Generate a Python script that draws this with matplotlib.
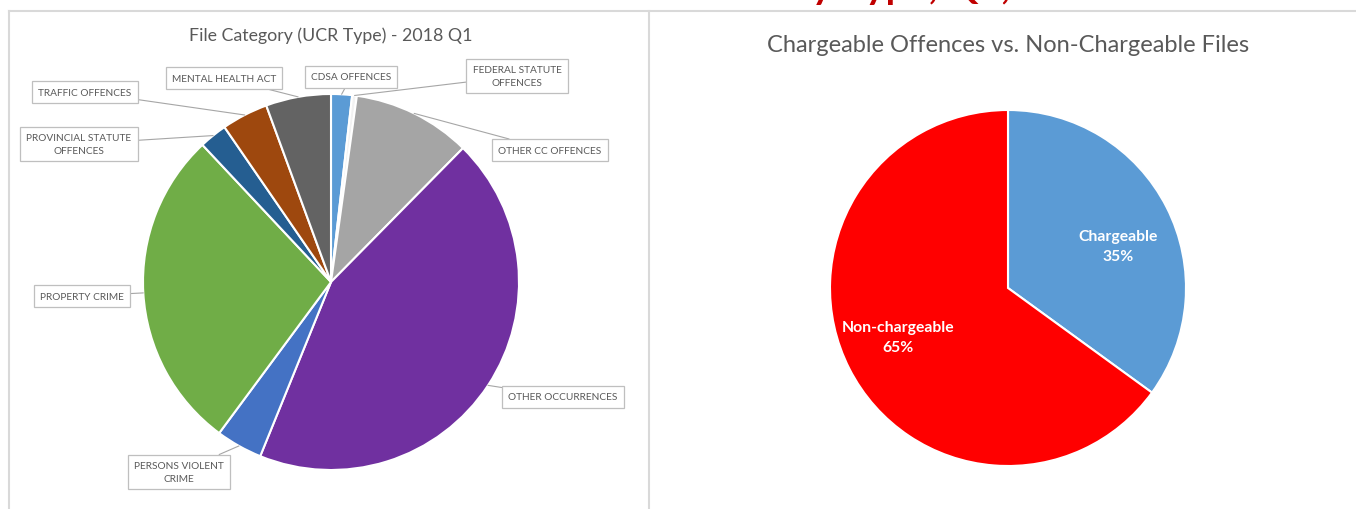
import matplotlib
matplotlib.use("Agg")
import matplotlib.pyplot as plt
from matplotlib.lines import Line2D
import math

plt.rcParams['font.family'] = ['Lato', 'DejaVu Sans']

# ---- data ----
ucr_labels = ["CDSA OFFENCES", "FEDERAL STATUTE\nOFFENCES", "OTHER CC OFFENCES",
              "OTHER OCCURRENCES", "PERSONS VIOLENT\nCRIME", "PROPERTY CRIME",
              "PROVINCIAL STATUTE\nOFFENCES", "TRAFFIC OFFENCES", "MENTAL HEALTH ACT"]
ucr_values = [1.8, 0.4, 10.2, 43.8, 4.0, 27.9, 2.4, 4.0, 5.6]
ucr_colors = ["#5B9BD5", "#F2F2F2", "#A5A5A5", "#7030A0", "#4472C4",
              "#70AD47", "#255E91", "#9E480E", "#636363"]

charge_labels = ["Chargeable", "Non-chargeable"]
charge_values = [35, 65]
charge_colors = ["#5B9BD5", "#FF0000"]

W, H = 1356, 510
fig = plt.figure(figsize=(W / 100, H / 100), dpi=100)
ax = fig.add_axes([0, 0, 1, 1])

def P(x, y):
    """pixel (top-left origin) -> data coords"""
    return (x, H - y)

# ---- panel borders ----
border = "#D9D9D9"
ax.add_line(Line2D([9, 9], [0, H - 12], color=border, lw=1.5))
ax.add_line(Line2D([9, W], [H - 12, H - 12], color=border, lw=1.5))
ax.add_line(Line2D([649, 649], [0, H - 12], color=border, lw=1.5))

# ---- left pie ----
c1 = P(331, 283)
r1 = 188
wedges1, _ = ax.pie(ucr_values, colors=ucr_colors, startangle=90, counterclock=False,
                    center=c1, radius=r1,
                    wedgeprops=dict(edgecolor="white", linewidth=1.5))

label_pos = [P(351, 78), P(517, 77), P(550, 151), P(563, 398), P(179, 473),
             P(82, 297), P(79, 145), P(85, 93), P(224, 79)]

for w, lab, pos in zip(wedges1, ucr_labels, label_pos):
    mid = math.radians((w.theta1 + w.theta2) / 2)
    xy = (c1[0] + r1 * math.cos(mid), c1[1] + r1 * math.sin(mid))
    ax.annotate(lab, xy=xy, xytext=pos, ha="center", va="center",
                fontsize=7.3, color="#595959", linespacing=1.55,
                bbox=dict(boxstyle="square,pad=0.6", fc="white", ec="#BFBFBF", lw=0.9),
                arrowprops=dict(arrowstyle="-", color="#A6A6A6", lw=0.8,
                                shrinkA=0, shrinkB=0))

ax.text(331, H - 36, "File Category (UCR Type) - 2018 Q1", ha="center", va="center",
        fontsize=12.8, color="#595959")

# ---- right pie ----
c2 = P(1008, 289)
r2 = 178
wedges2, _ = ax.pie(charge_values, colors=charge_colors, startangle=90, counterclock=False,
                    center=c2, radius=r2,
                    wedgeprops=dict(edgecolor="white", linewidth=1.5))
charge_label_pos = [P(1118, 247), P(898, 338)]
for lab, val, pos in zip(charge_labels, charge_values, charge_label_pos):
    ax.text(pos[0], pos[1], f"{lab}\n{val}%", ha="center", va="center", fontsize=11.3,
            fontweight="bold", color="white", linespacing=1.55)

ax.text(1008, H - 45, "Chargeable Offences vs. Non-Chargeable Files", ha="center",
        va="center", fontsize=17, color="#595959")

# ---- cropped heading at very top ----
ax.text(905, H + 1, "Files by Type, Q1, 2018", ha="center", va="baseline",
        fontsize=28, fontweight="bold", color="#C00000", clip_on=True)

ax.set_xlim(0, W)
ax.set_ylim(0, H)
ax.set_aspect("auto")
ax.axis("off")

fig.savefig("out.png", dpi=100)
